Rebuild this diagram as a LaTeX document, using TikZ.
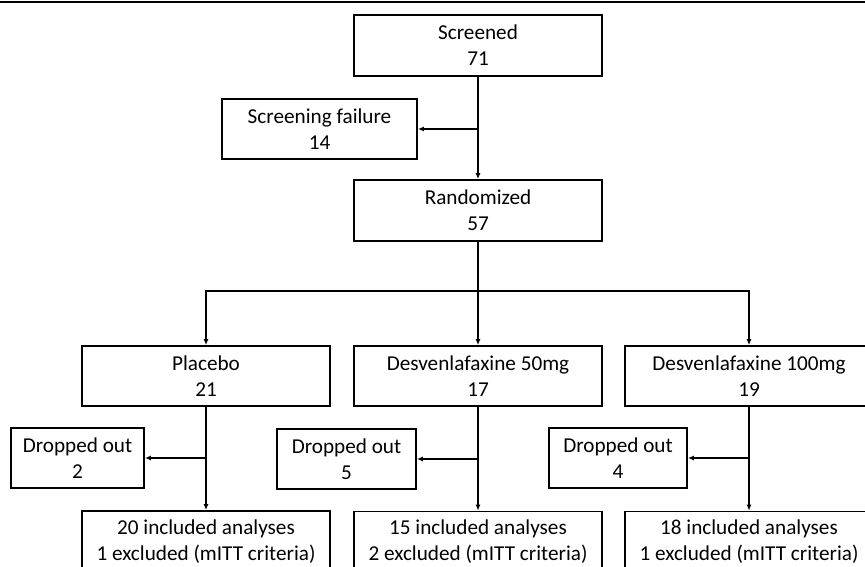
\documentclass[tikz,border=0pt]{standalone}
\usepackage{fontspec}
\setmainfont{Carlito}
\usetikzlibrary{arrows.meta}
\begin{document}
\begin{tikzpicture}[x=1pt,y=-1pt,
		box/.style={draw, line width=1.8pt, align=center, inner sep=0pt,
			minimum height=60pt, font=\fontsize{21.2}{26}\selectfont},
		wbox/.style={box, minimum width=248pt},
		sbox/.style={box, minimum width=136pt},
		link/.style={line width=1.4pt, -{Latex[length=6pt,width=5pt]}}]
	\useasboundingbox (0,0) rectangle (865,567);
	\clip (0,0) rectangle (865,567);
	\draw[line width=2.4pt] (0,2.2) -- (865,2.2);
	%
	\node[wbox, minimum height=61pt] (screened) at (478,45.5) {Screened\\71};
	\node[box, minimum width=195pt] (fail) at (319.5,129) {Screening failure\\14};
	\node[wbox, minimum height=61pt] (rand) at (478,210.5) {Randomized\\57};
	\draw[link] (screened.south) -- (rand.north);
	\draw[link] (screened.south |- fail.east) -- (fail.east);
	%
	\node[wbox] (plac) at (206,376) {Placebo\\21};
	\node[wbox] (d50) at (478,376) {Desvenlafaxine 50mg\\17};
	\node[wbox] (d100) at (749,376) {Desvenlafaxine 100mg\\19};
	\coordinate (split) at (478,291);
	\draw[link] (rand.south) -- (d50.north);
	\draw[link] (split) -| (plac.north);
	\draw[link] (split) -| (d100.north);
	%
	\node[sbox, minimum width=133pt] (drop0) at (77.5,458) {Dropped out\\2};
	\node[sbox, minimum width=139pt] (drop50) at (346.5,459) {Dropped out\\5};
	\node[sbox, minimum width=138pt] (drop100) at (618,458) {Dropped out\\4};
	%
	\node[wbox, minimum height=61pt] (inc0) at (206,541.5) {20 included analyses\\1 excluded (mITT criteria)};
	\node[wbox, minimum height=61pt] (inc50) at (478,542) {15 included analyses\\2 excluded (mITT criteria)};
	\node[wbox, minimum height=61pt] (inc100) at (749,542) {18 included analyses\\1 excluded (mITT criteria)};
	\draw[link] (plac.south) -- (inc0.north);
	\draw[link] (d50.south) -- (inc50.north);
	\draw[link] (d100.south) -- (inc100.north);
	\draw[link] (plac.south |- drop0.east) -- (drop0.east);
	\draw[link] (d50.south |- drop50.east) -- (drop50.east);
	\draw[link] (d100.south |- drop100.east) -- (drop100.east);
\end{tikzpicture}
\end{document}
